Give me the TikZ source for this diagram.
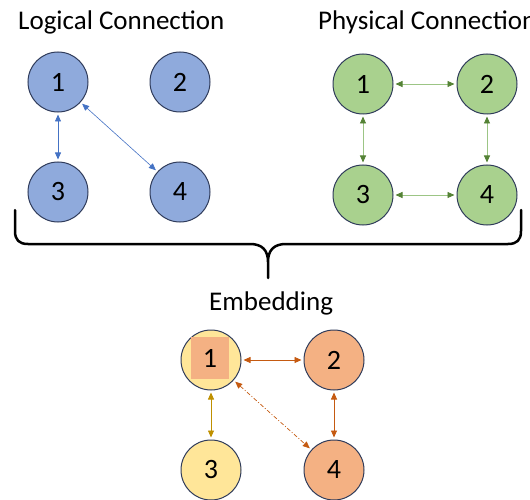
\documentclass[tikz,border=0pt]{standalone}
\usepackage{fontspec}
\setmainfont{Carlito}
\usetikzlibrary{arrows.meta}

\definecolor{outline}{HTML}{2F3B5A}
\definecolor{bluefill}{HTML}{8FAADC}
\definecolor{blueline}{HTML}{4472C4}
\definecolor{greenfill}{HTML}{A9D18E}
\definecolor{greenline}{HTML}{9CC585}
\definecolor{greentip}{HTML}{548235}
\definecolor{yellowfill}{HTML}{FFE699}
\definecolor{orangefill}{HTML}{F4B183}
\definecolor{orangeline}{HTML}{C55A11}
\definecolor{goldline}{HTML}{BF9000}

\tikzset{
  vertex/.style={circle, draw=outline, line width=1pt, minimum size=60pt,
                 inner sep=0pt, font=\fontsize{28}{28}\selectfont},
  title/.style={anchor=base west, inner sep=0pt, font=\fontsize{27}{27}\selectfont},
  link/.style={line width=0.8pt, shorten <=2pt, shorten >=2pt,
               {Triangle[length=7pt,width=6pt]}-{Triangle[length=7pt,width=6pt]}},
  greenlink/.style={line width=0.9pt, draw=greenline, shorten <=2pt, shorten >=2pt,
               {Triangle[length=7pt,width=6pt,color=greentip]}-{Triangle[length=7pt,width=6pt,color=greentip]}},
}

\begin{document}
\begin{tikzpicture}[x=1pt, y=-1pt]
\useasboundingbox (0,0) rectangle (530,500);

% logical graph
\node[title] (tl) at (18,30) {Logical Connection};
\node[vertex, fill=bluefill] (l1) at (58,82) {1};
\node[vertex, fill=bluefill] (l2) at (180,82) {2};
\node[vertex, fill=bluefill] (l3) at (58,192) {3};
\node[vertex, fill=bluefill] (l4) at (180,192) {4};
\draw[link, blueline] (l1) -- (l3);
\draw[link, blueline, line width=0.6pt] (l1) -- (l4);

% physical graph
\node[title] (tp) at (318,30) {Physical Connection};
\node[vertex, fill=greenfill] (p1) at (363,84) {1};
\node[vertex, fill=greenfill] (p2) at (487,84) {2};
\node[vertex, fill=greenfill] (p3) at (363,195) {3};
\node[vertex, fill=greenfill] (p4) at (487,195) {4};
\foreach \a/\b in {p1/p2, p1/p3, p2/p4, p3/p4}
  \draw[greenlink] (\a) -- (\b);

% curly brace joining both graphs
\draw[line width=2.5pt, line cap=round, line join=round]
  (15,210) -- (15,231) .. controls (15,240) and (19,244) .. (28,244)
  -- (250,244) .. controls (262,244) and (268,250) .. (268,262) -- (268,278)
  -- (268,262) .. controls (268,250) and (274,244) .. (286,244)
  -- (508,244) .. controls (517,244) and (521,240) .. (521,231) -- (521,210);

% embedding
\node[title] (te) at (209,310) {Embedding};
\node[vertex, fill=yellowfill] (e1) at (211,360) {};
\node[fill=orangefill, minimum width=38pt, minimum height=42pt, inner sep=0pt,
      font=\fontsize{28}{28}\selectfont] (e1sq) at (210,358) {1};
\node[vertex, fill=orangefill] (e2) at (334,360) {2};
\node[vertex, fill=yellowfill] (e3) at (211,470) {3};
\node[vertex, fill=orangefill] (e4) at (334,470) {4};
\draw[link, orangeline] (e1) -- (e2);
\draw[link, orangeline] (e2) -- (e4);
\draw[link, goldline] (e1) -- (e3);
\draw[link, orangeline, line width=0.7pt,
      dash pattern=on 4pt off 2pt on 1pt off 2pt] (e1) -- (e4);
\end{tikzpicture}
\end{document}
